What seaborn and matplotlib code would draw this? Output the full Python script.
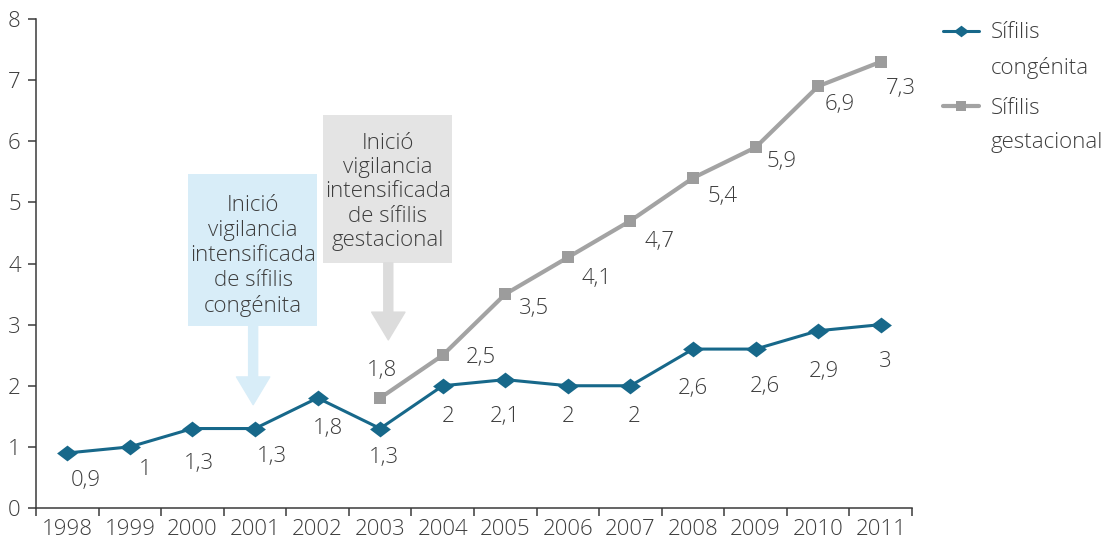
import numpy as np
import pandas as pd
import matplotlib
matplotlib.use("Agg")
import matplotlib.pyplot as plt
import seaborn as sns
from matplotlib.path import Path
from matplotlib.lines import Line2D
from matplotlib.patches import Rectangle

# ---- data ----
years = ["1998", "1999", "2000", "2001", "2002", "2003", "2004",
         "2005", "2006", "2007", "2008", "2009", "2010", "2011"]
congenita = [0.9, 1.0, 1.3, 1.3, 1.8, 1.3, 2.0, 2.1, 2.0, 2.0, 2.6, 2.6, 2.9, 3.0]
gest_years = ["2003", "2004", "2005", "2006", "2007", "2008", "2009", "2010", "2011"]
gestacional = [1.8, 2.5, 3.5, 4.1, 4.7, 5.4, 5.9, 6.9, 7.3]
y_ticks = [0, 1, 2, 3, 4, 5, 6, 7, 8]
legend_lines = [["Sífilis", "congénita"], ["Sífilis", "gestacional"]]
note_congenita = "Inició\nvigilancia\nintensificada\nde sífilis\ncongénita"
note_gestacional = "Inició\nvigilancia\nintensificada\nde sífilis\ngestacional"

# ---- styling ----
TEAL = "#17688a"
GRAY_LINE = "#a3a3a3"
GRAY_MARK = "#9c9c9c"
TEXT = "#3d3d3d"
AXIS = "#3a3a3a"
BLUE_BOX = "#d8edf8"
GRAY_BOX = "#e4e4e4"
GRAY_ARROW = "#dcdcdc"
FS = 16

# value label offsets in pixels (right, down) from each point
cong_off = [(19, 28), (15, 23), (6, 35), (17, 28), (10, 31), (4, 29), (5, 31),
            (0, 37), (0, 31), (4, 31), (0, 39), (9, 37), (6, 41), (5, 37)]
gest_off = [(2, -27), (38, 2), (29, 14), (29, 21), (29, 21), (29, 19),
            (26, 14), (22, 18), (20, 27)]

sns.set_theme(style="white")
plt.rcParams["font.family"] = ["Open Sans", "DejaVu Sans"]
plt.rcParams["font.weight"] = "light"
plt.rcParams["text.color"] = TEXT


def fmt(v):
    return f"{v:g}".replace(".", ",")


diamond = Path([(-1, 0), (0, 0.76), (1, 0), (0, -0.76), (-1, 0)],
               [Path.MOVETO, Path.LINETO, Path.LINETO, Path.LINETO, Path.CLOSEPOLY])

fig = plt.figure(figsize=(11.06, 5.48), dpi=100)
ax = fig.add_axes([0.03255, 0.073, 0.7921, 0.8923])

pos = {y: i for i, y in enumerate(years)}
df_c = pd.DataFrame({"x": [pos[y] for y in years], "v": congenita})
df_g = pd.DataFrame({"x": [pos[y] for y in gest_years], "v": gestacional})

sns.lineplot(data=df_g, x="x", y="v", ax=ax, color=GRAY_LINE, linewidth=3.0,
             marker="s", markersize=8.6, markerfacecolor=GRAY_MARK,
             markeredgewidth=0, errorbar=None, zorder=3)
sns.lineplot(data=df_c, x="x", y="v", ax=ax, color=TEAL, linewidth=2.2,
             marker=diamond, markersize=15, markerfacecolor=TEAL,
             markeredgewidth=0, errorbar=None, zorder=4)

for (x, v), (dx, dy) in zip(zip(df_c["x"], df_c["v"]), cong_off):
    ax.annotate(fmt(v), (x, v), xytext=(dx, -dy), textcoords="offset pixels",
                ha="center", va="center", fontsize=FS, color=TEXT)
for (x, v), (dx, dy) in zip(zip(df_g["x"], df_g["v"]), gest_off):
    ax.annotate(fmt(v), (x, v), xytext=(dx, -dy), textcoords="offset pixels",
                ha="center", va="center", fontsize=FS, color=TEXT)

# annotation boxes with arrows
arrow_style = "simple,head_length=2.0,head_width=2.4,tail_width=0.65"
ax.add_patch(Rectangle((1.93, 2.98), 2.06, 2.48, facecolor=BLUE_BOX,
                       edgecolor="none", zorder=1))
ax.text(2.97, 4.12, note_congenita, ha="center", va="center", fontsize=FS,
        color=TEXT, linespacing=1.25, zorder=2)
ax.annotate("", xy=(2.97, 1.69), xytext=(2.97, 2.98),
            arrowprops=dict(arrowstyle=arrow_style, mutation_scale=10,
                            color=BLUE_BOX, shrinkA=0, shrinkB=0),
            zorder=1)

ax.add_patch(Rectangle((4.09, 4.01), 2.06, 2.42, facecolor=GRAY_BOX,
                       edgecolor="none", zorder=1))
ax.text(5.12, 5.17, note_gestacional, ha="center", va="center", fontsize=FS,
        color=TEXT, linespacing=1.2, zorder=2)
ax.annotate("", xy=(5.13, 2.75), xytext=(5.13, 4.01),
            arrowprops=dict(arrowstyle=arrow_style, mutation_scale=10,
                            color=GRAY_ARROW, shrinkA=0, shrinkB=0),
            zorder=1)

# axes
ax.set_xlim(-0.5, len(years) - 0.5)
ax.set_ylim(0, 8)
ax.set_xticks(range(len(years)))
ax.set_xticklabels(years)
ax.set_xticks(np.arange(-0.5, len(years), 1), minor=True)
ax.set_yticks(y_ticks)
ax.set_yticklabels([str(t) for t in y_ticks])
ax.set_xlabel("")
ax.set_ylabel("")
ax.tick_params(axis="x", which="major", length=0, pad=8, labelsize=FS, labelcolor=TEXT)
ax.tick_params(axis="x", which="minor", length=6, width=1.1, color=AXIS, direction="out", bottom=True)
ax.tick_params(axis="y", length=6, width=1.1, color=AXIS, direction="out", pad=5,
               labelsize=FS, labelcolor=TEXT, left=True)
for s in ["top", "right"]:
    ax.spines[s].set_visible(False)
for s in ["left", "bottom"]:
    ax.spines[s].set_color(AXIS)
    ax.spines[s].set_linewidth(1.1)

# legend: each entry shows its symbol beside the first line of the label
blank = Line2D([], [], color="none")
h_c = Line2D([], [], color=TEAL, linewidth=2.2, marker=diamond, markersize=11,
             markerfacecolor=TEAL, markeredgewidth=0)
h_g = Line2D([], [], color=GRAY_LINE, linewidth=3.0, marker="s", markersize=7.2,
             markerfacecolor=GRAY_MARK, markeredgewidth=0)
leg_kw = dict(loc="upper left", bbox_transform=fig.transFigure, frameon=False,
              borderpad=0, borderaxespad=0, handlelength=1.6, handletextpad=0.55,
              labelspacing=0.59, fontsize=FS, labelcolor=TEXT)
leg1 = ax.legend([h_c, blank], legend_lines[0], bbox_to_anchor=(0.8526, 0.959), **leg_kw)
ax.add_artist(leg1)
ax.legend([h_g, blank], legend_lines[1], bbox_to_anchor=(0.8526, 0.822), **leg_kw)

fig.savefig("out.png", dpi=100)
